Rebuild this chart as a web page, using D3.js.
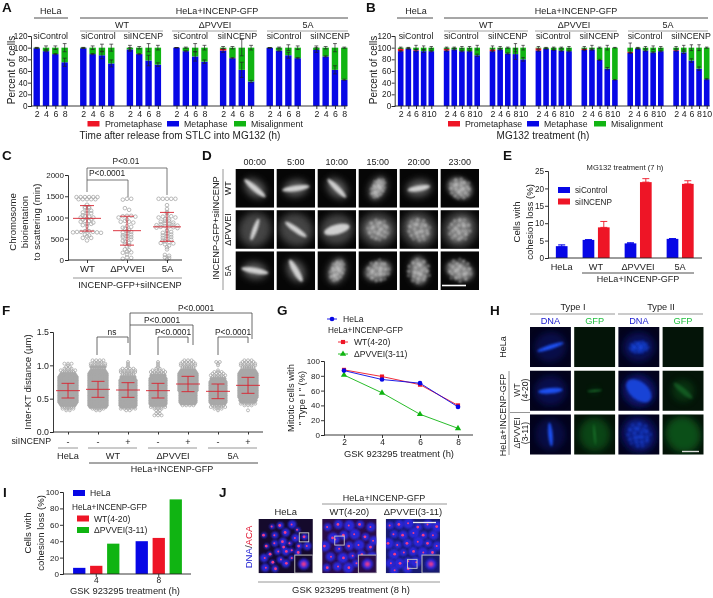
<!DOCTYPE html>
<html><head><meta charset="utf-8">
<style>html,body{margin:0;padding:0;background:#fff}svg{display:block;filter:blur(.3px)}text{font-family:"Liberation Sans",Arial,sans-serif;fill:#222}</style>
<script src="https://cdn.jsdelivr.net/npm/d3@7"></script></head><body>
<script>
// ---------- DATA ----------
const stackKeys = ["metaphase","prometaphase","misalignment"];
const legendNames = ["Prometaphase","Metaphase","Misalignment"];
const aHours = [2,4,6,8];
const aMeta = [[99,94,89,75],[99,89,87,73],[97,89,78,71],[100,94,85,76],[95,82,62,42],[99.5,95,87,82],[96,85,62,45]];
const aProm = [[0,0,0,0],[0,0,0,0],[0,.5,0,0],[0,0,0,0],[3,.5,0,0],[0,0,0,0],[0,0,0,0]];
const aMetaErr = [[.5,1,1,7],[.5,1,6,6],[3,1,9,3],[0,1,8,3],[3,1,13,2],[0,1,5,1],[4,1,7,1]];
const aMisErr = [[.5,3,3,7],[.5,3,6,6],[4,2,7,4],[0,1,7,4],[2,2,14,4],[0,1,5,3],[3,2,7,1]];
const bHours = [2,4,6,8,10];
const bMeta = [[94,98,95,94,94],[95,97,94,94,87],[94,97,90,89,80],[95,98,96,95,94],[96,97,79,64,45],[91,98,95,92,94],[95,92,78,64,46]];
const bProm = [[4,.5,1,0,0],[3,0,0,0,0],[3,0,0,0,0],[4,0,0,0,0],[2,0,0,0,0],[2,0,0,0,0],[1,0,0,0,0]];
const bMetaErr = [[1,.5,2,2,1],[1,1,1,1,2],[1,1,1,9,3],[1,.5,.5,1,1],[1,1,1,2,.5],[1,.5,1,1,1],[1,2,3,3,1]];
const bMisErr = [[1,.5,4,3,2],[1,1,2,2,4],[3,2,1,7,4],[2,.5,1,1,2],[2,4,1,4,.5],[8,.5,2,3,2],[2,4,5,5,1]];

const cGroups = ["WT","ΔPVVEI","5A"];
const cWT = [1480,1480,1480,1480,1480,1480,1430,1430,1430,1430,1430,1300,1250,1250,1220,1220,1160,1160,1120,1100,1100,1050,1030,1020,1000,1000,980,960,950,920,920,900,880,850,850,820,800,700,680,680,660,660,660,650,650,640,600,580,560,520,520,460];
const cDP = [1440,1440,1420,1220,1180,1040,1040,1030,1020,1000,950,920,900,900,880,800,780,760,740,700,680,660,650,620,600,580,560,540,540,500,480,450,430,400,380,350,320,250,230,200,180,170,130,60,50,30];
const cFA = [1440,1440,1440,1440,1440,1290,1200,1130,1100,1040,1030,1020,1000,1000,960,950,920,910,900,880,860,850,840,830,820,810,800,790,780,770,760,750,700,680,660,640,620,600,580,560,540,520,500,480,460,440,420,400,390,370,340,300,250,120,100,60,50,20];
const cMean = [980,690,780];
const cSD = [300,340,340];

const dTimes = ["00:00","5:00","10:00","15:00","20:00","23:00"];
const dRows = ["WT","ΔPVVEI","5A"];
const dAngle = [[40,-8,45,-65,-10,30],[-70,35,-15,10,50,120],[10,60,-70,-20,85,200]];
const dPlateLen = [[.36,.36,.34,.3,.3,.32],[.3,.34,.34,.32,.34,.34],[.36,.33,.32,.34,.36,.36]];
const dPlateWid = [[.075,.075,.07,.14,.075,.26],[.065,.075,.13,.26,.26,.26],[.075,.08,.17,.24,.22,.22]];
const dScatter = [[0,0,0,1,0,2],[0,0,0,2,2,2],[0,0,1,2,2,2]];
const dHalo = [[.29,.29,.29,.29,.3,.3],[.42,.42,.4,.44,.44,.44],[.29,.29,.31,.31,.32,.32]];

const eGroups = ["HeLa","WT","ΔPVVEI","5A"];
const eSiControl = [3.4,5.2,4.2,5.5];
const eSiControlErr = [.4,.1,.2,.1];
const eSiINCENP = [null,8.8,21.8,21.3];
const eSiINCENPErr = [null,1.7,1,.9];

const fGroups = ["HeLa","WT-","WT+","dP-","dP+","5A-","5A+"];
const fSigns = ["-","-","+","-","+","-","+"];
const fMean = [.62,.64,.63,.62,.72,.61,.70];
const fSD = [.11,.12,.11,.11,.115,.11,.12];
// dots per 0.025 bin, first bin 0.25
const fCounts = [
[0,0,0,2,4,6,7,8,9,9,9,9,9,9,9,9,9,9,9,9,9,9,9,9,8,7,6,5,3,2,1,3,0,0,0],
[0,0,0,2,6,8,9,9,9,9,9,9,9,9,9,9,9,9,9,9,9,9,9,9,9,9,8,7,6,7,5,5,3,4,0],
[0,0,0,2,5,7,8,8,8,8,8,8,8,8,8,8,8,8,8,8,8,8,7,7,6,6,5,5,4,1,1,1,1,0,0],
[3,2,1,2,3,5,7,8,8,8,8,8,8,8,8,8,8,8,8,8,8,8,8,7,7,6,5,4,2,1,1,1,1,0,0],
[0,0,0,0,0,0,4,7,8,8,8,8,8,8,8,9,9,9,9,9,9,9,9,9,9,9,8,7,6,6,5,5,4,3,0],
[0,0,0,1,3,5,6,7,8,8,8,8,8,8,8,8,8,8,8,8,8,7,7,6,5,4,3,1,0,0,1,1,2,0,0],
[0,0,0,1,0,0,3,5,7,8,8,9,9,9,9,9,9,9,9,9,9,9,9,9,9,9,8,7,6,6,5,5,4,3,0]];

const gHours = [2,4,6,8];
const gHeLa = [87,75,70,38];
const gWT = [88,79,68,40];
const gDP = [81,57,28,9];

const hCols = ["DNA","GFP","DNA ","GFP "];
const hRows = ["HeLa","WT","dP"];
const hAngle = [[-18,0,-5,0],[-5,-5,40,40],[85,85,60,60]];
const hPlateLen = [[.34,0,.26,0],[.3,.18,.36,.3],[.3,.26,.34,0]];
const hPlateWid = [[.055,0,.13,0],[.07,.025,.22,.07],[.055,.02,.26,0]];
const hHalo = [[.36,0,.36,0],[.36,.08,.38,.26],[.36,.38,.42,.42]];
const hScatter = [[0,0,1,0],[0,0,0,0],[0,0,2,0]];
const hBright = [[1,0,.85,0],[1,.5,.8,.3],[1,.55,.75,0]];
const hHaloBright = [[.55,0,.7,0],[.6,.4,1,.45],[.5,.7,.9,.85]];

const iDoses = [4,8];
const iHeLa = [7.5,40];
const iWT = [10,44];
const iDP = [37,91];

const jTitles = ["HeLa","WT(4-20)","ΔPVVEI(3-11)"];
const jHeLa = [[.25,.14],[.4,.12],[.62,.1],[.1,.3],[.3,.3],[.5,.25],[.72,.2],[.85,.33],[.68,.35],[.15,.5],[.3,.45],[.45,.42],[.58,.45],[.75,.5],[.9,.5],[.2,.65],[.35,.6],[.5,.6],[.6,.58],[.72,.62],[.1,.72],[.25,.8],[.4,.75],[.5,.82],[.6,.72],[.3,.92],[.12,.9],[.45,.52]];
const jWT = [[.1,.15],[.3,.1],[.5,.12],[.7,.1],[.9,.15],[.2,.35],[.25,.38],[.4,.3],[.6,.28],[.8,.33],[.95,.4],[.05,.5],[.3,.55],[.5,.5],[.68,.48],[.88,.52],[.15,.7],[.38,.72],[.55,.68],[.72,.66],[.92,.7],[.08,.9],[.28,.88],[.48,.9],[.62,.82]];
const jDP = [[.08,.12],[.25,.1],[.42,.08],[.6,.15],[.78,.1],[.95,.14],[.15,.28],[.32,.3],[.52,.26],[.7,.3],[.88,.3],[.05,.45],[.22,.48],[.4,.45],[.6,.42],[.78,.45],[.95,.5],[.15,.65],[.32,.62],[.5,.6],[.68,.62],[.85,.62],[.08,.82],[.25,.82],[.4,.78],[.4,.92],[.55,.8],[.7,.72],[.15,.95]];
const jBg = ["#150a2c","#2a0c48","#181a70"];
const jBox = [[.75,.33],[.23,.39],[.4,.82]];

// ---------- HELPERS ----------
const BLUE="#0707e6", RED="#ee1526", GREEN="#10b412", GREY="#8a8a8a", INK="#222", ERR="#d8232f";
const svg = d3.select("body").append("svg").attr("width",713).attr("height",598).attr("viewBox","0 0 713 598");
const defs = svg.append("defs");
[[.5,"b05"],[.8,"b08"],[1.2,"b1"],[2,"b2"],[3.5,"b3"]].forEach(([s,id])=>{
  defs.append("filter").attr("id",id).attr("x","-60%").attr("y","-60%").attr("width","220%").attr("height","220%")
    .append("feGaussianBlur").attr("stdDeviation",s);
});
function txt(x,y,s,o={}){
  const t = svg.append("text").attr("x",x).attr("y",y).text(s)
    .attr("font-size",o.size||9).attr("text-anchor",o.anchor||"middle");
  if(o.bold) t.attr("font-weight","bold");
  if(o.color) t.style("fill",o.color);
  if(o.rot) t.attr("transform",`rotate(-90 ${x} ${y})`);
  return t;
}
function rtxt(x,y,s,o={}){ return txt(x,y,s,{...o,rot:true}); }
function line(x1,y1,x2,y2,c=INK,w=.8){
  svg.append("line").attr("x1",x1).attr("y1",y1).attr("x2",x2).attr("y2",y2).attr("stroke",c).attr("stroke-width",w);
}
function poly(pts,c=INK,w=.8){
  svg.append("path").attr("d",d3.line()(pts)).attr("fill","none").attr("stroke",c).attr("stroke-width",w);
}
function axis(gen,tx,ty,size=9){
  const g = svg.append("g").attr("transform",`translate(${tx},${ty})`).call(gen);
  g.selectAll("path,line").attr("stroke",INK).attr("stroke-width",.9);
  g.selectAll("text").attr("font-size",size);
  return g;
}
function errBar(g,x,y0,y1,cap,c,w=.9){
  const d=`M${x},${y0}V${y1}M${x-cap},${y0}H${x+cap}M${x-cap},${y1}H${x+cap}`;
  g.append("path").attr("d",d).attr("stroke",c).attr("stroke-width",w).attr("fill","none");
}
[["A",2,12],["B",366,12],["C",2,160],["D",202,160],["E",503,160],["F",2,315],["G",277,315],["H",490,315],["I",3,497],["J",219,497]]
 .forEach(([s,x,y])=>txt(x,y,s,{bold:true,size:13.5,anchor:"start",color:"#111"}));

// ---------- A / B ----------
function stackedPanel(c){
  const n=c.hours.length, slots=d3.range(7*(n+1)-1);
  const x=d3.scalePoint().domain(slots).range([c.x0,c.x1]);
  const y=d3.scaleLinear().domain([0,120]).range([106,36]);
  const rows=[];
  c.meta.forEach((gr,i)=>gr.forEach((m,j)=>rows.push({slot:i*(n+1)+j,hour:c.hours[j],metaphase:m,prometaphase:c.prom[i][j],misalignment:100-m-c.prom[i][j],me:c.metaErr[i][j],ae:c.misErr[i][j]})));
  const series=d3.stack().keys(stackKeys)(rows);
  const colors={metaphase:BLUE,prometaphase:RED,misalignment:GREEN};
  const g=svg.append("g");
  g.selectAll("g").data(series).join("g").attr("fill",d=>colors[d.key])
    .selectAll("rect").data(d=>d).join("rect")
    .attr("x",d=>x(d.data.slot)-c.bw/2).attr("width",c.bw)
    .attr("y",d=>y(d[1])).attr("height",d=>y(d[0])-y(d[1]));
  rows.forEach(r=>{
    errBar(g,x(r.slot),y(r.metaphase+r.me),y(Math.max(r.metaphase-r.me,0)),c.bw*.3,"#222",.7);
    errBar(g,x(r.slot),y(100+r.ae),y(100-r.ae),c.bw*.3,"#222",.7);
  });
  axis(d3.axisLeft(y).tickValues(d3.range(0,121,20)).tickSize(3).tickPadding(0.5),c.axisX,0,8.2);
  const bySlot=new Map(rows.map(r=>[r.slot,r.hour]));
  const xa=axis(d3.axisBottom(x).tickValues(rows.map(r=>r.slot)).tickFormat(s=>bySlot.get(s)).tickSize(3).tickPadding(2),0,106,8.8);
  xa.select(".domain").attr("d",`M${c.axisX},0H${c.x1+3}`);
  txt(c.ylabX,70,"Percent of cells",{size:10,rot:true});
  c.head.forEach(h=>{txt(h[0],h[1],h[2],{size:9}); line(h[3],h[4],h[5],h[4],h[6]||INK,.8);});
  c.sub.forEach((s,i)=>txt(s,39,(i==0||i%2==1)?"siControl":"siINCENP",{size:8.8}));
  legendNames.forEach((l,i)=>{
    svg.append("rect").attr("x",c.leg[i][0]).attr("y",121).attr("width",c.leg[i][1]).attr("height",5.5).attr("fill",[RED,BLUE,GREEN][i]);
    txt(c.leg[i][2],126.5,l,{size:8.8,anchor:"start"});
  });
  txt(c.lab[0],139,c.lab[1],{size:c.lab[2]});
}
stackedPanel({hours:aHours,meta:aMeta,prom:aProm,metaErr:aMetaErr,misErr:aMisErr,x0:36.7,x1:344.3,bw:6.4,axisX:31,ylabX:15,
 head:[[50.7,14,"HeLa",34,18,68],[217,14,"HeLa+INCENP-GFP",80,18,348],[122,28,"WT",80,31,163,GREY],[215,28,"ΔPVVEI",172,31,257,GREY],[308,28,"5A",267,31,348,GREY]],
 sub:[50.7,98.3,143.3,190.7,237.3,284,330],
 leg:[[87.5,12,105],[167,12,184],[234,12,251]],
 lab:[180,"Time after release from STLC into MG132 (h)",10]});
stackedPanel({hours:bHours,meta:bMeta,prom:bProm,metaErr:bMetaErr,misErr:bMisErr,x0:400.7,x1:706.7,bw:5.6,axisX:394.7,ylabX:377,
 head:[[416,14,"HeLa",397,18,433],[576,14,"HeLa+INCENP-GFP",444,18,708],[486,28,"WT",444,31,528,GREY],[574,28,"ΔPVVEI",535,31,617,GREY],[668,28,"5A",628,31,708,GREY]],
 sub:[416,461.3,507.7,553.3,599.3,645,691],
 leg:[[448,12,465],[527,12,544],[594,12,611]],
 lab:[543,"MG132 treatment (h)",10]});

// ---------- C ----------
function swarm(vals,bin,dx,maxW){
  const m=d3.group(vals,v=>Math.round(v/bin)), out=[];
  m.forEach(a=>{
    const st=a.length>1?Math.min(dx,maxW/(a.length-1)):dx;
    a.forEach((v,i)=>{
      const k=a.length%2? Math.ceil(i/2)*(i%2?1:-1) : (Math.floor(i/2)+.5)*(i%2?1:-1);
      out.push({v,off:k*st});
    });
  });
  return out;
}
(function(){
  const x=d3.scalePoint().domain(cGroups).range([87,167]);
  const y=d3.scaleLinear().domain([0,2000]).range([260,175]);
  const g=svg.append("g");
  [cWT,cDP,cFA].forEach((vals,i)=>{
    g.append("g").selectAll("circle").data(swarm(vals,60,4.2,28)).join("circle")
      .attr("cx",d=>x(cGroups[i])+d.off).attr("cy",d=>y(d.v)).attr("r",1.8)
      .attr("fill","none").attr("stroke","#a8a8a8").attr("stroke-width",.8);
    const cx=x(cGroups[i]);
    errBar(g,cx,y(cMean[i]+cSD[i]),y(cMean[i]-cSD[i]),7,ERR,.9);
    line(cx-14,y(cMean[i]),cx+14,y(cMean[i]),ERR,.9);
  });
  axis(d3.axisLeft(y).tickValues(d3.range(0,2001,500)).tickFormat(d3.format("d")).tickSize(3).tickPadding(1),68,0,8);
  const xa=axis(d3.axisBottom(x).tickSize(3).tickPadding(2),0,260,9.6);
  xa.select(".domain").attr("d","M68,0H182");
  line(73,278,182,278,GREY,.9);
  txt(130,288,"INCENP-GFP+siINCENP",{size:9.2});
  rtxt(16,222,"Chromosome",{size:9.6}); rtxt(28,222,"biorientation",{size:9.6}); rtxt(40,222,"to scattering (min)",{size:9.6});
  txt(107,176,"P<0.0001",{size:8.4}); txt(126,164,"P<0.01",{size:8.4});
  poly([[87,192],[87,180],[128,180],[128,197]],"#555"); poly([[87,180],[87,168],[167,168],[167,195]],"#555");
})();

// ---------- microscopy ----------
const scatterBlobs=[[-.62,-.42,1],[-.28,-.72,.8],[.08,-.58,1.2],[.41,-.74,.7],[.66,-.31,1],[-.81,.06,.7],[-.4,-.12,1.3],[-.02,-.24,.9],[.27,-.11,1.2],[.58,.09,1],[.84,.18,.7],[-.61,.37,1.1],[-.24,.22,1],[.09,.31,1.3],[.38,.42,.9],[.67,.5,.8],[-.37,.68,.9],[-.02,.74,1],[.28,.79,.7],[-.14,-.46,.8],[.45,-.42,.9],[-.52,.03,.8],[.16,.05,1]];
function cellImage(g,xp,yp,w,h,o,id){
  defs.append("clipPath").attr("id",id).append("rect").attr("x",xp).attr("y",yp).attr("width",w).attr("height",h);
  g.append("rect").attr("x",xp).attr("y",yp).attr("width",w).attr("height",h).attr("fill",o.bg);
  const c=g.append("g").attr("clip-path",`url(#${id})`);
  const cx=xp+w/2, cy=yp+h/2, t=`rotate(${o.a} ${cx} ${cy})`;
  if(o.halo) c.append("ellipse").attr("cx",cx).attr("cy",cy).attr("rx",o.halo*w*1.08).attr("ry",o.halo*w*(o.round?1:.74))
     .attr("fill",o.haloC).attr("filter","url(#b3)").attr("transform",t).attr("opacity",o.hb==null?1:o.hb);
  if(o.len) {
    const op=o.br==null?1:o.br;
    c.append("ellipse").attr("cx",cx).attr("cy",cy).attr("rx",o.len*w).attr("ry",o.wid*w)
     .attr("fill",o.col).attr("filter",o.scat?"url(#b2)":"url(#b1)").attr("transform",t).attr("opacity",o.scat?0.38*op:op);
    if(o.scat) c.append("g").selectAll("circle").data(scatterBlobs).join("circle")
     .attr("cx",d=>cx+d[0]*o.len*w).attr("cy",d=>cy+d[1]*o.len*w*(o.scat==2?1:.65)).attr("r",d=>w*.042*d[2])
     .attr("fill",o.col).attr("filter","url(#b08)").attr("transform",t).attr("opacity",.7*op);
  }
}
// D
(function(){
  const g=svg.append("g");
  const cx=d3.scaleBand().domain(dTimes).range([235.7,479]).paddingInner(.065);
  const ry=d3.scaleBand().domain(dRows).range([169,290]).paddingInner(.065);
  dRows.forEach((r,i)=>dTimes.forEach((t,j)=>{
    cellImage(g,cx(t),ry(r),cx.bandwidth(),ry.bandwidth(),{bg:"#060606",a:dAngle[i][j],len:dPlateLen[i][j],wid:dPlateWid[i][j],scat:dScatter[i][j],halo:dHalo[i][j],round:i==1,haloC:i==1?"#444":"#5c5c5c",col:"#cfcfcf"},"d"+i+j);
  }));
  dTimes.forEach(t=>txt(cx(t)+cx.bandwidth()/2,165,t,{size:9}));
  dRows.forEach(r=>rtxt(231,ry(r)+ry.bandwidth()/2,r,{size:9}));
  rtxt(219,228,"INCENP-GFP+siINCENP",{size:9.2});
  line(223,169,223,290,GREY,.9);
  line(442,285.5,466,285.5,"#fff",1.6);
})();

// ---------- E ----------
(function(){
  const x=d3.scaleLinear().domain([0,1]).range([561.7,603.7]);
  const y=d3.scaleLinear().domain([0,25]).range([258,171]);
  const g=svg.append("g"), bw=11.7;
  const groupPos=[-.0,.637,1.638,2.638];
  const bar=(cx,v,e,col)=>{
    g.append("rect").attr("x",cx-bw/2).attr("width",bw).attr("y",y(v)).attr("height",y(0)-y(v)).attr("fill",col);
    errBar(g,cx,y(v+e),y(v),3.5,col);
  };
  eGroups.forEach((e,i)=>{
    bar(x(groupPos[i]),eSiControl[i],eSiControlErr[i],BLUE);
    if(eSiINCENP[i]!=null) bar(x(groupPos[i]+.365),eSiINCENP[i],eSiINCENPErr[i],RED);
    txt(i==0?x(0):x(groupPos[i]+.18),270,e,{size:9.2});
  });
  axis(d3.axisLeft(y).tickValues(d3.range(0,26,5)).tickSize(3).tickPadding(1),548,0,8.2);
  line(548,258,702,258,INK,.9);
  line(582,273,694,273);
  txt(638,282,"HeLa+INCENP-GFP",{size:9});
  txt(625,170,"MG132 treatment (7 h)",{size:7.6});
  [["siControl",BLUE,190],["siINCENP",RED,201.5]].forEach(([l,c,yy])=>{
    svg.append("rect").attr("x",558).attr("y",yy-3).attr("width",12).attr("height",6).attr("fill",c);
    txt(575,yy+3,l,{size:8.2,anchor:"start"});
  });
  rtxt(520,222,"Cells with",{size:9.6}); rtxt(533,222,"cohesion loss (%)",{size:9.6});
})();

// ---------- F ----------
(function(){
  const x=d3.scalePoint().domain(fGroups).range([68,248]);
  const y=d3.scaleLinear().domain([0,1.5]).range([432,332]);
  const g=svg.append("g");
  fGroups.forEach((name,i)=>{
    const pts=[];
    fCounts[i].forEach((n,b)=>{
      const v=.25+.025*b;
      d3.range(n).forEach(k=>pts.push({v,n,off:(k-(n-1)/2)*(n>=6?2.2:3.6)}));
    });
    g.append("g").selectAll("circle").data(pts).join("circle")
      .attr("cx",d=>x(name)+d.off).attr("cy",d=>y(d.v)).attr("r",1.5)
      .attr("fill",d=>d.n>=7?"#a8a8a8":"none").attr("stroke","#a8a8a8").attr("stroke-width",.8);
    const cx=x(name);
    errBar(g,cx,y(fMean[i]+fSD[i]),y(fMean[i]-fSD[i]),6.5,ERR,.9);
    line(cx-12,y(fMean[i]),cx+12,y(fMean[i]),ERR,.9);
    txt(cx,445,fSigns[i],{size:9});
  });
  axis(d3.axisLeft(y).tickValues([0,.5,1,1.5]).tickFormat(d3.format(".1f")).tickSize(3).tickPadding(1),53,0,8.8);
  const xa=axis(d3.axisBottom(x).tickFormat("").tickSize(2.5),0,432);
  xa.select(".domain").attr("d","M53,0H263");
  rtxt(31,382,"Inter-KT distance (µm)",{size:9.6});
  txt(51,444,"siINCENP",{size:8.8,anchor:"end"});
  [[58,78],[88,137],[148,197],[208,257]].forEach(([a,b])=>line(a,448,b,448,GREY,.9));
  [["HeLa",68],["WT",113],["ΔPVVEI",173],["5A",233]].forEach(([s,cx])=>txt(cx,459,s,{size:9.2}));
  line(89,463,258,463);
  txt(172,472,"HeLa+INCENP-GFP",{size:9});
  poly([[97,355],[97,337],[128,337],[128,343]],"#444");
  txt(112,335,"ns",{size:8.4});
  poly([[158,355],[158,337],[188,337],[188,343]],"#444");
  txt(173,335,"P<0.0001",{size:8.4});
  poly([[218,355],[218,337],[248,337],[248,343]],"#444");
  txt(233,335,"P<0.0001",{size:8.4});
  poly([[130,355],[130,325],[193,325],[193,345]],"#444");
  txt(162,323,"P<0.0001",{size:8.4});
  poly([[130,325],[130,313],[252,313],[252,339]],"#444");
  txt(196,311,"P<0.0001",{size:8.4});
})();

// ---------- G ----------
(function(){
  const x=d3.scalePoint().domain(gHours).range([344,458]);
  const y=d3.scaleLinear().domain([0,100]).range([435,361]);
  const g=svg.append("g");
  const mk={c:d3.symbolCircle,s:d3.symbolSquare,t:d3.symbolTriangle};
  const drawLine=(vals,col,sym)=>{
    g.append("path").datum(vals).attr("fill","none").attr("stroke",col).attr("stroke-width",.9)
      .attr("d",d3.line().x((d,i)=>x(gHours[i])).y(d=>y(d)));
    g.append("g").selectAll("path").data(vals).join("path")
      .attr("d",d3.symbol().type(sym).size(17))
      .attr("fill",col).attr("transform",(d,i)=>`translate(${x(gHours[i])},${y(d)})`);
  };
  drawLine(gDP,GREEN,mk.t); drawLine(gWT,RED,mk.s); drawLine(gHeLa,BLUE,mk.c);
  axis(d3.axisLeft(y).tickValues(d3.range(0,101,20)).tickSize(3).tickPadding(1),324,0,8);
  const xa=axis(d3.axisBottom(x).tickSize(3).tickPadding(1),0,435,8.4);
  xa.select(".domain").attr("d","M324,0H473");
  txt(399,457,"GSK 923295 treatment (h)",{size:9.4});
  rtxt(294,398,"Mitotic cells with",{size:9.4}); rtxt(305,398,"\" Type I \" (%)",{size:9.4});
  const leg=(x0,yy,col,sym,label,tx)=>{
    line(x0,yy,x0+10,yy,col,.9);
    svg.append("path").attr("d",d3.symbol().type(sym).size(17)).attr("fill",col).attr("transform",`translate(${x0+5},${yy})`);
    txt(tx,yy+3,label,{size:8.6,anchor:"start"});
  };
  leg(327,319,BLUE,mk.c,"HeLa",343);
  txt(328,333,"HeLa+INCENP-GFP",{size:8.2,anchor:"start"});
  leg(338,342,RED,mk.s,"WT(4-20)",354);
  leg(338,354,GREEN,mk.t,"ΔPVVEI(3-11)",354);
})();

// ---------- H ----------
(function(){
  const g=svg.append("g");
  const cx=d3.scaleBand().domain(hCols).range([530,703.5]).paddingInner(.075);
  const ry=d3.scaleBand().domain(hRows).range([327,454.5]).paddingInner(.085);
  hRows.forEach((r,i)=>hCols.forEach((c,j)=>{
    const dna=j%2==0;
    cellImage(g,cx(c),ry(r),cx.bandwidth(),ry.bandwidth(),{bg:dna?"#03031c":"#041408",a:hAngle[i][j],len:hPlateLen[i][j],wid:hPlateWid[i][j],scat:hScatter[i][j],halo:hHalo[i][j],round:true,haloC:dna?"#0c1670":"#0f5a1e",col:dna?"#1f50f0":"#2fb048",br:hBright[i][j],hb:hHaloBright[i][j]},"h"+i+j);
  }));
  hCols.forEach((c,j)=>txt(cx(c)+cx.bandwidth()/2,324,c.trim(),{size:9.2,color:j%2?"#22c040":"#2020d0"}));
  txt(573,310,"Type I",{size:9.2}); line(530,314,615,314,GREY,.9);
  txt(661,310,"Type II",{size:9.2}); line(618,314,703,314,GREY,.9);
  rtxt(506,347,"HeLa",{size:9});
  rtxt(506,415,"HeLa+INCENP-GFP",{size:9});
  line(509,371,509,455,GREY,.9);
  line(510,412.5,530,412.5,GREY,.9);
  rtxt(520,390,"WT",{size:8.6}); rtxt(528,390,"(4-20)",{size:8.6});
  rtxt(520,433,"ΔPVVEI",{size:8.6}); rtxt(528,433,"(3-11)",{size:8.6});
  line(682,451.5,699,451.5,"#ddd",1.4);
})();

// ---------- I ----------
(function(){
  const x=d3.scaleBand().domain(iDoses).range([65,190]).paddingInner(0);
  const y=d3.scaleLinear().domain([0,100]).range([574,492]);
  const g=svg.append("g");
  [[iHeLa,BLUE,-17],[iWT,RED,0],[iDP,GREEN,17]].forEach(([vals,col,off])=>{
    g.append("g").selectAll("rect").data(vals).join("rect")
      .attr("x",(d,i)=>x(iDoses[i])+x.bandwidth()/2+off-6.15).attr("width",12.3)
      .attr("y",d=>y(d)).attr("height",d=>y(0)-y(d)).attr("fill",col);
  });
  axis(d3.axisLeft(y).tickValues(d3.range(0,101,20)).tickSize(3).tickPadding(1),63,0,8);
  const xa=axis(d3.axisBottom(x).tickSize(3).tickPadding(0),0,574,8.4);
  xa.select(".domain").attr("d","M63,0H191");
  txt(125,594,"GSK 923295 treatment (h)",{size:9.4});
  rtxt(31,533,"Cells with",{size:9.6}); rtxt(44,533,"cohesion loss (%)",{size:9.6});
  const sw=(xs,yy,c,l,tx)=>{svg.append("rect").attr("x",xs).attr("y",yy-3).attr("width",12).attr("height",6).attr("fill",c);txt(tx,yy+3,l,{size:8.6,anchor:"start"});};
  sw(73,493,BLUE,"HeLa",90);
  txt(72,510,"HeLa+INCENP-GFP",{size:8.2,anchor:"start"});
  sw(77,518.5,RED,"WT(4-20)",94);
  sw(77,530,GREEN,"ΔPVVEI(3-11)",94);
})();

// ---------- J ----------
(function(){
  const cols=d3.scaleBand().domain(jTitles).range([258.7,440]).paddingInner(.15);
  const w=cols.bandwidth(), top=519, fx=d3.scaleLinear().domain([0,1]), fy=d3.scaleLinear().domain([0,1]).range([top,top+w]);
  const g=svg.append("g");
  [jHeLa,jWT,jDP].forEach((pts,i)=>{
    const title=jTitles[i], x0=cols(title);
    fx.range([x0,x0+w]);
    const id="j"+i;
    defs.append("clipPath").attr("id",id).append("rect").attr("x",x0).attr("y",top).attr("width",w).attr("height",w);
    g.append("rect").attr("x",x0).attr("y",top).attr("width",w).attr("height",w).attr("fill",jBg[i]);
    const c=g.append("g").attr("clip-path",`url(#${id})`);
    c.append("g").selectAll("circle").data(pts).join("circle").attr("cx",d=>fx(d[0])).attr("cy",d=>fy(d[1])).attr("r",(d,k)=>(i==0?2.6:3.8)+(k%3)*.8)
      .attr("fill","#2a28d8").attr("filter","url(#b1)");
    c.append("g").selectAll("circle").data(pts).join("circle").attr("cx",d=>fx(d[0])+(d[1]>.5?.6:-.6)).attr("cy",d=>fy(d[1])).attr("r",(d,k)=>1+(k%2)*.4)
      .attr("fill","#f23c86").attr("filter","url(#b05)");
    const s=18, xs=x0+w-s, ys=top+w-s;
    c.append("rect").attr("x",xs).attr("y",ys).attr("width",s).attr("height",s).attr("fill",jBg[i]).attr("stroke","#bbb").attr("stroke-width",1);
    c.append("circle").attr("cx",xs+s/2).attr("cy",ys+s/2).attr("r",5.5).attr("fill","#2a28e0").attr("filter","url(#b1)");
    c.append("circle").attr("cx",xs+s/2).attr("cy",ys+s/2).attr("r",2.6).attr("fill","#e83a90").attr("filter","url(#b1)");
    c.append("rect").attr("x",fx(jBox[i][0])).attr("y",fy(jBox[i][1])-4).attr("width",9.5).attr("height",9).attr("fill","none").attr("stroke","#ccc").attr("stroke-width",.9);
    txt(x0+w/2,515,title,{size:9.4});
  });
  txt(384,501,"HeLa+INCENP-GFP",{size:9});
  line(322,504,447,504,GREY,.9);
  line(258,582,440,582,GREY,.9);
  txt(351,593,"GSK 923295 treatment (8 h)",{size:9.4});
  line(413,522.5,436,522.5,"#eee",1.3);
  const t=svg.append("text").attr("transform","rotate(-90 252 547)").attr("x",252).attr("y",547).attr("text-anchor","middle").attr("font-size",9.6);
  t.append("tspan").text("DNA").style("fill","#1a1ad0");
  t.append("tspan").text("/").style("fill","#333");
  t.append("tspan").text("ACA").style("fill","#e01530");
})();
</script></body></html>
